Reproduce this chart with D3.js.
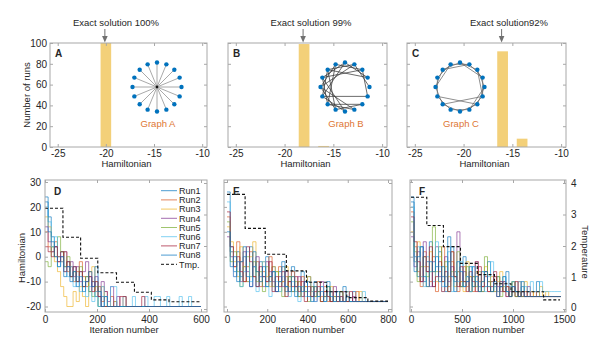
<!DOCTYPE html>
<html>
<head>
<meta charset="utf-8">
<script src="https://cdn.jsdelivr.net/npm/d3@7"></script>
<style>
  body { margin: 0; background: #fff; }
  text { font-family: "Liberation Sans", Arial, sans-serif; fill: #262626; }
</style>
</head>
<body>
<script>
// ---- top row: final Hamiltonian of 100 runs per graph ----
const histTitles = ["Exact solution 100%", "Exact solution 99%", "Exact solution92%"];
const graphLabels = ["Graph A", "Graph B", "Graph C"];
const topLetters = ["A", "B", "C"];
const exactH = [-20, -18, -16];
const histH = [[-20], [-18, -16], [-16, -14]];
const histRuns = [[100], [99, 1], [92, 8]];
const hamTicks = [-25, -20, -15, -10];
const runTicks = [0, 20, 40, 60, 80, 100];

// graph insets: nodes 0..15 clockwise from the top, 16 is the hub
const edgesA = [[16,0],[16,1],[16,2],[16,3],[16,4],[16,5],[16,6],[16,7],
                [16,8],[16,9],[16,10],[16,11],[16,12],[16,13],[16,14],[16,15]];
const edgesB = [[6,9],[7,10],[8,11],[9,12],[10,13],[11,14],[12,15],[13,0],[14,1],[15,2],[0,3],[1,4],
                [7,12],[8,13],[9,14],[10,15],[11,0],[12,1],[13,2],[14,3],[5,11],[2,5],[6,10]];
const edgesC = [[0,2],[1,3],[2,4],[3,5],[4,6],[5,7],[6,8],[7,9],[8,10],[9,11],[10,12],[11,13],
                [12,14],[13,15],[14,0],[15,1],[0,3],[2,5],[4,7],[12,15],[14,1],[10,5],[11,6]];

// ---- bottom row: Hamiltonian vs iteration, 8 runs per graph ----
const bottomLetters = ["D", "E", "F"];
const runNames = ["Run1", "Run2", "Run3", "Run4", "Run5", "Run6", "Run7", "Run8"];
const runColors = ["#0072BD", "#D95319", "#EDB120", "#7E2F8E", "#77AC30", "#4DBEEE", "#A2142F", "#0072BD"];
const stepD = 12, stepE = 16, stepF = 30;   // iterations between samples

const runsD = [
  [22,16,8,4,0,2,-4,-2,-8,-4, -10,-6,-12,-8,-14,-10,-16,-20,-16,-20, -20,-20,-18,-20,-20,-20,-20,-20,-20,-20, -20,-20,-20,-20,-20,-20,-20,-20,-20,-20, -20,-20,-20,-20,-20,-20,-20,-20,-20,-20, -20],
  [10,4,2,6,0,-2,2,-6,-4,-10, -6,-2,-8,-12,-6,-10,-14,-12,-18,-14, -20,-16,-20,-20,-20,-16,-20,-20,-20,-20, -20,-20,-20,-20,-20,-20,-20,-20,-20,-20, -20,-20,-20,-20,-20,-20,-20,-20,-20,-20, -20],
  [16,12,4,-2,-6,-12,-16,-20,-20,-14, -18,-12,-16,-20,-6,-4,-10,-14,-12,-16, -20,-20,-18,-20,-20,-20,-20,-20,-20,-20, -20,-20,-20,-20,-20,-20,-20,-20,-20,-20, -20,-20,-20,-20,-20,-20,-20,-20,-20,-20, -20],
  [12,6,2,4,-2,0,2,-4,-2,-8, -4,-10,-6,-2,-8,-12,-8,-16,-10,-14, -18,-12,-20,-16,-20,-20,-20,-20,-20,-20, -20,-20,-20,-20,-20,-20,-20,-20,-20,-20, -20,-20,-20,-20,-20,-20,-20,-20,-20,-20, -20],
  [-2,-4,4,0,8,2,-4,0,-8,-6, -10,-4,-12,-8,-14,-16,-12,-20,-20,-20, -20,-20,-20,-20,-20,-20,-20,-20,-20,-20, -20,-20,-20,-20,-20,-20,-20,-20,-20,-20, -20,-20,-20,-20,-20,-20,-20,-20,-20,-20, -20],
  [20,14,4,8,-4,-2,-6,-8,-4,-12, -8,-14,-10,-16,-12,-18,-14,-20,-12,-16, -20,-12,-12,-20,-20,-16,-20,-20,-16,-20, -20,-20,-16,-20,-20,-16,-16,-20,-20,-16, -20,-20,-20,-16,-20,-20,-16,-20,-20,-20, -20],
  [4,2,0,4,-2,2,-6,-2,-8,-4, -10,-6,-12,-10,-8,-14,-10,-16,-20,-20, -20,-20,-20,-20,-16,-16,-20,-20,-20,-20, -20,-16,-20,-20,-20,-20,-20,-20,-20,-20, -20,-20,-20,-20,-20,-20,-20,-20,-20,-20, -20],
  [24,10,6,0,-4,0,-8,-4,-10,-6, -12,-8,-14,-10,-6,-12,-4,-14,-20,-16, -20,-20,-20,-20,-20,-20,-20,-20,-20,-20, -20,-20,-20,-20,-20,-20,-20,-20,-20,-20, -20,-20,-20,-20,-20,-20,-20,-20,-20,-20, -20]
];

const runsE = [
  [26,4,-6,2,-8,0,-10,4,-4,-12, -2,-8,0,-10,-4,-12,-6,-2,-14,-8, -4,-12,-10,-6,-14,-8,-16,-10,-14,-12, -16,-10,-18,-14,-16,-18,-12,-18,-18,-14, -18,-18,-18,-18,-18,-18,-18,-18,-18,-18, -18],
  [16,2,-4,6,-2,-10,-4,2,-8,-2, -12,-6,-10,0,-6,-14,-4,-10,-8,-14, -6,-12,-16,-8,-12,-10,-14,-16,-10,-16, -12,-18,-14,-16,-18,-14,-18,-16,-18,-18, -14,-18,-18,-18,-18,-18,-18,-18,-18,-18, -18],
  [12,6,-2,-8,4,-4,-10,0,6,-6, -10,-2,-8,-12,-4,-6,-14,-10,-4,-12, -8,-14,-10,-16,-12,-8,-14,-12,-16,-18, -14,-16,-12,-18,-16,-18,-18,-14,-18,-18, -18,-14,-18,-18,-18,-18,-18,-18,-18,-18, -18],
  [8,0,-8,-2,-10,2,-6,-12,-4,0, -8,-12,-2,-6,-10,-14,-8,-12,-6,-10, -14,-12,-8,-16,-10,-14,-12,-18,-14,-10, -16,-14,-18,-12,-16,-18,-14,-18,-18,-16, -18,-18,-18,-18,-18,-18,-18,-18,-18,-18, -18],
  [14,-2,2,-6,-12,-4,0,-8,-2,-10, -6,-14,-4,-8,-12,-6,-10,-16,-12,-8, -14,-10,-16,-12,-14,-18,-12,-16,-14,-18, -16,-12,-18,-16,-18,-14,-18,-18,-18,-18, -18,-18,-18,-18,-18,-18,-18,-18,-18,-18, -18],
  [22,2,-8,-2,-12,-6,2,-10,-4,-14, -8,-2,-12,-16,-6,-10,-14,-8,-12,-16, -10,-14,-18,-12,-16,-10,-14,-18,-16,-12, -18,-16,-14,-18,-18,-16,-18,-14,-18,-18, -18,-18,-14,-18,-18,-18,-18,-18,-18,-18, -18],
  [18,4,-4,0,-6,-10,4,-2,-8,-12, -4,-8,-10,-2,-14,-8,-12,-6,-16,-10, -12,-8,-14,-10,-18,-12,-16,-14,-12,-18, -14,-16,-18,-14,-18,-16,-18,-18,-14,-18, -18,-18,-18,-18,-18,-18,-18,-18,-18,-18, -18],
  [10,-4,0,-10,-2,4,-8,-12,2,-6, -10,-4,-12,-8,-6,-14,-10,-4,-12,-14, -8,-16,-12,-14,-10,-16,-18,-12,-16,-14, -18,-12,-16,-18,-14,-18,-18,-16,-18,-18, -18,-18,-18,-18,-18,-18,-18,-18,-18,-18, -18]
];

const runsF = [
  [22,0,-8,4,-10,-2,6,-12,-4,2, -8,-14,-2,4,-10,-6,-12,0,-8,-14, -4,-10,-14,-6,-12,-2,-10,-14,-8,-12, -14,-6,-16,-10,-14,-16,-12,-16,-14,-16, -16,-10,-16,-16,-16,-16,-16,-16,-16,-16],
  [18,4,-6,-12,2,-4,-10,0,-14,-6, 4,-8,-12,-2,-6,-14,-10,-4,-12,-8, -14,-2,-10,-12,-6,-14,-10,-8,-14,-12, -10,-16,-12,-14,-16,-10,-16,-14,-16,-16, -14,-16,-16,-16,-16,-16,-16,-16,-16,-16],
  [10,-2,6,-8,-4,-12,2,-6,-10,0, -14,-4,-8,2,-12,-6,-10,-14,-2,-8, -12,-6,-14,-10,-4,-12,-8,-14,-10,-6, -14,-12,-16,-10,-14,-16,-14,-10,-16,-14, -16,-16,-12,-16,-14,-16,-16,-16,-16,-16],
  [8,-4,2,-10,6,-6,-12,-2,4,-8, -14,0,-10,-4,-8,10,-12,-6,-10,-14, -8,-2,-12,-14,-6,-10,-14,-8,-12,-14, -10,-16,-14,-12,-16,-14,-16,-16,-12,-16, -16,-16,-16,-16,-16,-16,-16,-16,-16,-16],
  [14,2,-10,-4,0,-8,-6,12,-6,4, -10,-2,-14,-6,-8,2,-12,-10,-4,-14, -8,-12,-6,-14,0,-10,-14,-12,-8,-16, -12,-14,-16,-10,-16,-14,-16,-16,-16,-16, -16,-16,-16,-16,-16,-16,-16,-16,-16,-16],
  [20,-2,4,-8,-12,0,-6,-10,6,-4, -12,-8,2,-14,-6,-10,-2,-12,-8,-14, -4,-10,-12,-6,-14,-8,-2,-12,-14,-10, -8,-14,-12,-10,-14,-10,-14,-12,-14,-10, -14,-14,-10,-14,-14,-14,-14,-14,-14,-14],
  [16,6,-2,-10,0,-6,4,-12,-8,-2, -10,-6,-14,2,-8,-12,-4,-10,-14,-6, -10,-14,-4,-12,-8,-14,-12,-6,-16,-10, -14,-12,-16,-14,-10,-16,-14,-16,-16,-16, -16,-16,-16,-16,-16,-16,-16,-16,-16,-16],
  [24,-6,0,4,-8,-12,-2,-6,0,-10, -4,-12,8,-8,-14,-2,-6,-12,-10,-4, -12,-8,-14,-10,-6,-12,-14,-10,-16,-12, -8,-14,-16,-12,-14,-16,-10,-16,-16,-16, -16,-16,-16,-16,-16,-16,-16,-16,-16,-16]
];

// annealing temperature schedule (step changes)
const tmpItersD = [0, 69, 137, 203, 275, 344, 409, 477, 600];
const tmpD = [3.20, 2.28, 1.61, 1.15, 0.85, 0.53, 0.29, 0.23, 0.23];
const tmpItersE = [0, 90, 190, 295, 395, 495, 595, 700, 800];
const tmpE = [3.64, 2.56, 1.74, 1.21, 0.85, 0.55, 0.36, 0.25, 0.25];
const tmpItersF = [0, 155, 318, 485, 650, 818, 980, 1300, 1460];
const tmpF = [3.55, 2.65, 1.98, 1.45, 1.09, 0.80, 0.55, 0.29, 0.29];

const iterTicksD = [0, 200, 400, 600];
const iterTicksE = [0, 200, 400, 600, 800];
const iterTicksF = [0, 500, 1000, 1500];
const hTicks = [-20, -10, 0, 10, 20, 30];
const tempTicks = [0, 1, 2, 3, 4];

// ---- drawing ----
const W = 599, H = 342;
const boxColor = "#a8a8a8";
const font = '"Liberation Sans", Arial, sans-serif';

const svg = d3.select("body").append("svg")
  .attr("width", W).attr("height", H);

// inward tick marks and optional labels
function axis(g, gen, at, isX, labels, pad) {
  const a = g.append("g")
    .attr("transform", isX ? `translate(0,${at})` : `translate(${at},0)`)
    .call(gen.tickSize(-3).tickPadding(pad).tickFormat(labels ? d => String(d) : ""));
  a.select(".domain").remove();
  a.selectAll("line").attr("stroke", boxColor);
  a.attr("font-family", font).attr("font-size", 10);
  a.selectAll("text").attr("fill", "#262626");
  return a;
}

function frame(g, x0, x1, y0, y1) {
  g.append("rect")
    .attr("x", x0).attr("y", y0)
    .attr("width", x1 - x0).attr("height", y1 - y0)
    .attr("fill", "none").attr("stroke", boxColor).attr("stroke-width", 1);
}

// top row panels
const topX = [[50, 207], [228, 387], [407, 566]];
const topY = [43, 147];
const graphCenters = [[157, 87], [345, 87], [460, 87]];
const titleX = [116, 311, 509];
const edgeSets = [edgesA, edgesB, edgesC];
const edgeColors = ["#8c8c8c", "#3a3a3a", "#6a6a6a"];

const yRuns = d3.scaleLinear().domain([0, 100]).range([topY[1], topY[0]]);

topX.forEach((px, k) => {
  const g = svg.append("g");
  const x = d3.scaleLinear().domain([-25.8, -9.5]).range(px);

  // bars
  g.selectAll("rect.bar")
    .data(histH[k].map((h, i) => ({ h: h, n: histRuns[k][i] })))
    .enter().append("rect")
    .attr("class", "bar")
    .attr("x", d => x(d.h - 0.55))
    .attr("width", d => x(d.h + 0.55) - x(d.h - 0.55))
    .attr("y", d => yRuns(d.n))
    .attr("height", d => yRuns(0) - yRuns(d.n))
    .attr("fill", "#F3D079");

  frame(g, px[0], px[1], topY[0], topY[1]);
  axis(g, d3.axisBottom(x).tickValues(hamTicks), topY[1], true, true, 3);
  axis(g, d3.axisTop(x).tickValues(hamTicks), topY[0], true, false, 3);
  axis(g, d3.axisLeft(yRuns).tickValues(runTicks), px[0], false, k === 0, 3);
  axis(g, d3.axisRight(yRuns).tickValues(runTicks), px[1], false, false, 3);

  g.append("text")
    .attr("x", (px[0] + px[1]) / 2 - 2).attr("y", 167)
    .attr("text-anchor", "middle").attr("font-size", 9.5)
    .text("Hamiltonian");

  g.append("text")
    .attr("x", px[0] + 5).attr("y", 57)
    .attr("font-size", 10).attr("font-weight", "bold")
    .text(topLetters[k]);

  // exact-solution arrow and caption
  const ax = x(exactH[k]) - 1;
  g.append("line")
    .attr("x1", ax).attr("x2", ax).attr("y1", 29).attr("y2", 37)
    .attr("stroke", "#707070").attr("stroke-width", 1);
  g.append("path")
    .attr("d", `M${ax - 2.8},36 L${ax + 2.8},36 L${ax},42.5 Z`)
    .attr("fill", "#707070");
  g.append("text")
    .attr("x", titleX[k]).attr("y", 26)
    .attr("text-anchor", "middle").attr("font-size", 9.5)
    .text(histTitles[k]);

  // graph inset on a circular layout
  const [cx, cy] = graphCenters[k];
  const r = 24.5;
  const nodes = d3.range(16).map(i => {
    const a = -Math.PI / 2 + i * Math.PI / 8;
    return [cx + r * Math.cos(a), cy + r * Math.sin(a)];
  });
  nodes.push([cx, cy]);
  g.selectAll("line.edge")
    .data(edgeSets[k])
    .enter().append("line")
    .attr("class", "edge")
    .attr("x1", d => nodes[d[0]][0]).attr("y1", d => nodes[d[0]][1])
    .attr("x2", d => nodes[d[1]][0]).attr("y2", d => nodes[d[1]][1])
    .attr("stroke", edgeColors[k]).attr("stroke-width", 0.75);
  g.selectAll("circle.node")
    .data(nodes.slice(0, 16))
    .enter().append("circle")
    .attr("class", "node")
    .attr("cx", d => d[0]).attr("cy", d => d[1]).attr("r", 2.2)
    .attr("fill", "#0072BD");
  if (k === 0) {
    g.append("circle").attr("cx", cx).attr("cy", cy).attr("r", 2.6).attr("fill", "#bbb");
    g.append("circle").attr("cx", cx).attr("cy", cy).attr("r", 1.4).attr("fill", "#111");
  }
  g.append("text")
    .attr("x", cx + 1).attr("y", 127)
    .attr("text-anchor", "middle").attr("font-size", 9.5)
    .style("fill", "#DE7634")
    .text(graphLabels[k]);
});

svg.append("text")
  .attr("transform", "translate(30,95) rotate(-90)")
  .attr("text-anchor", "middle").attr("font-size", 9.5)
  .text("Number of runs");

// bottom row panels
const botFrames = [[45, 207], [224, 392], [410, 566]];
const botRanges = [[45, 201], [227, 388], [411, 564]];
const botDomains = [[0, 600], [0, 800], [0, 1500]];
const botY = [180, 312];
const runSets = [runsD, runsE, runsF];
const steps = [stepD, stepE, stepF];
const tmpIters = [tmpItersD, tmpItersE, tmpItersF];
const tmps = [tmpD, tmpE, tmpF];
const iterTicks = [iterTicksD, iterTicksE, iterTicksF];
const labelX = [124, 310, 490];

const yH = d3.scaleLinear().domain([-20, 30]).range([306.5, 182]);
const yT = d3.scaleLinear().domain([0, 4]).range([309, 183]);

botFrames.forEach((fx, k) => {
  const g = svg.append("g");
  const x = d3.scaleLinear().domain(botDomains[k]).range(botRanges[k]);
  const step = steps[k];

  const line = d3.line()
    .x((d, i) => x(i * step))
    .y(d => yH(d))
    .curve(d3.curveStepAfter);

  g.selectAll("path.run")
    .data(runSets[k])
    .enter().append("path")
    .attr("class", "run")
    .attr("d", line)
    .attr("fill", "none")
    .attr("stroke", (d, i) => runColors[i])
    .attr("stroke-opacity", 0.7)
    .attr("stroke-width", 0.9);

  const tLine = d3.line()
    .x(d => x(d[0]))
    .y(d => yT(d[1]))
    .curve(d3.curveStepAfter);
  g.append("path")
    .attr("d", tLine(tmpIters[k].map((t, i) => [t, tmps[k][i]])))
    .attr("fill", "none")
    .attr("stroke", "#111")
    .attr("stroke-width", 1.1)
    .attr("stroke-dasharray", "3,2");

  frame(g, fx[0], fx[1], botY[0], botY[1]);
  axis(g, d3.axisBottom(x).tickValues(iterTicks[k]), botY[1], true, true, 4);
  axis(g, d3.axisTop(x).tickValues(iterTicks[k]), botY[0], true, false, 3);
  axis(g, d3.axisLeft(yH).tickValues(hTicks), fx[0], false, k === 0, 4);
  const tAxis = axis(g, d3.axisRight(yT).tickValues(tempTicks), fx[1], false, k === 2, 5);
  // lift the lowest temperature label clear of the iteration labels
  tAxis.selectAll(".tick").filter(d => d === 0).select("text").attr("y", -1.5);

  g.append("text")
    .attr("x", labelX[k]).attr("y", 333)
    .attr("text-anchor", "middle").attr("font-size", 9.5)
    .text("Iteration number");

  g.append("text")
    .attr("x", fx[0] + 9).attr("y", 195)
    .attr("font-size", 10).attr("font-weight", "bold")
    .text(bottomLetters[k]);
});

svg.append("text")
  .attr("transform", "translate(25,258) rotate(-90)")
  .attr("text-anchor", "middle").attr("font-size", 9.5)
  .text("Hamiltonian");

svg.append("text")
  .attr("transform", "translate(582,252) rotate(90)")
  .attr("text-anchor", "middle").attr("font-size", 9.5)
  .text("Temperature");

// legend inside panel D
const legend = svg.append("g");
runNames.concat(["Tmp."]).forEach((name, i) => {
  const ly = 190.7 + i * 9.2;
  const isTmp = i === runNames.length;
  legend.append("line")
    .attr("x1", 161).attr("x2", 177).attr("y1", ly).attr("y2", ly)
    .attr("stroke", isTmp ? "#111" : runColors[i])
    .attr("stroke-opacity", isTmp ? 1 : 0.7)
    .attr("stroke-dasharray", isTmp ? "3,2" : null)
    .attr("stroke-width", 1);
  legend.append("text")
    .attr("x", 179).attr("y", ly + 3.3)
    .attr("font-size", 9)
    .text(name);
});
</script>
</body>
</html>
